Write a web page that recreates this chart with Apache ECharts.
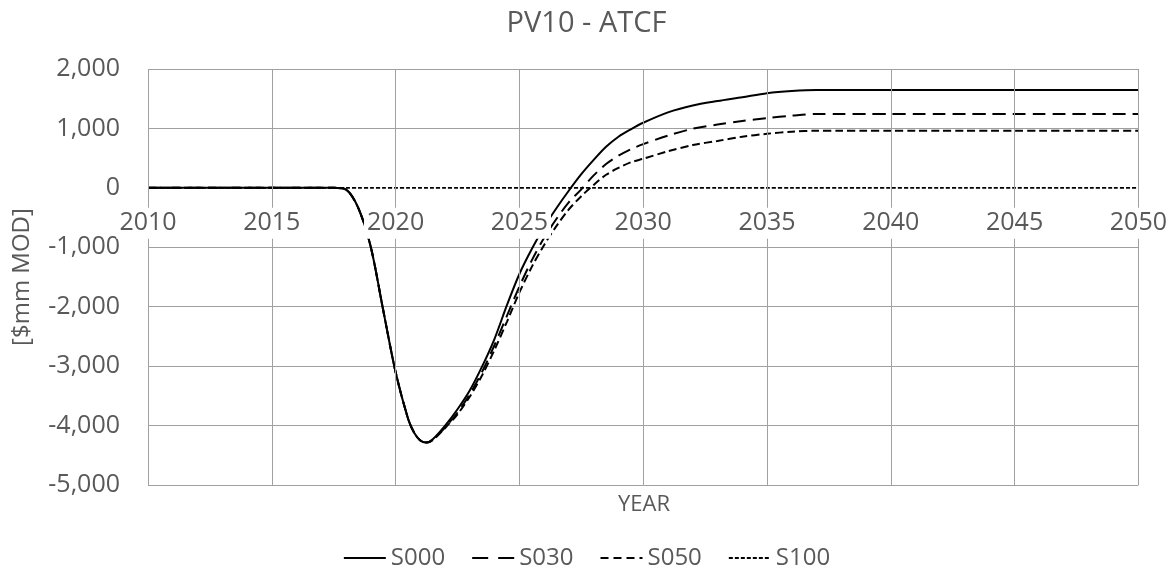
<!DOCTYPE html>
<html>
<head>
<meta charset="utf-8">
<script src="https://cdn.jsdelivr.net/npm/echarts@6/dist/echarts.min.js"></script>
<style>html,body{margin:0;padding:0;background:#fff}#c{width:1173px;height:568px}</style>
</head>
<body>
<div id="c"></div>
<script>
const years = [2010,2011,2012,2013,2014,2015,2016,2017,2017.5,2018,2018.5,2019,2019.5,2020,2020.5,2020.75,2021,2021.25,2021.5,2022,2022.5,2023,2023.5,2024,2024.5,2025,2025.5,2026,2026.5,2027,2027.5,2028,2028.5,2029,2029.5,2030,2031,2032,2033,2034,2035,2036,2037,2038,2039,2040,2041,2042,2043,2044,2045,2046,2047,2048,2049,2050];
const s000 = [0,0,0,0,0,0,0,0,0,-30,-345,-1000,-2060,-3100,-3880,-4120,-4250,-4285,-4230,-4000,-3725,-3405,-3000,-2535,-1970,-1450,-1030,-660,-340,-45,230,470,690,860,985,1095,1270,1385,1460,1525,1593,1630,1647,1647,1647,1647,1647,1647,1647,1647,1647,1647,1647,1647,1647,1647];
const s030 = [0,0,0,0,0,0,0,0,0,-30,-345,-1000,-2060,-3100,-3880,-4120,-4250,-4285,-4240,-4030,-3780,-3470,-3090,-2640,-2150,-1660,-1220,-840,-520,-240,-25,210,400,540,650,735,880,995,1065,1125,1175,1215,1244,1244,1244,1244,1244,1244,1244,1244,1244,1244,1244,1244,1244,1244];
const s050 = [0,0,0,0,0,0,0,0,0,-30,-345,-1000,-2060,-3100,-3880,-4120,-4250,-4285,-4245,-4040,-3810,-3510,-3150,-2720,-2250,-1760,-1330,-960,-640,-360,-140,50,220,335,430,490,615,720,790,860,910,945,960,960,960,960,960,960,960,960,960,960,960,960,960,960];
const s100 = years.map(() => 0);
const seriesNames = ['S000','S030','S050','S100'];
const yTicks = [-5000,-4000,-3000,-2000,-1000,0,1000,2000];
const xTicks = [2010,2015,2020,2025,2030,2035,2040,2045,2050];

const FONT = 'Open Sans';
const GREY = '#595959';
const pair = (vals) => years.map((y, i) => [y, vals[i]]);
const dashes = [null, [13, 7], [8, 4], [4, 2]];
const legendDashes = [null, [16, 10], [8, 5], [4, 2]];
const widths = [2, 2, 2, 1.8];
const vals = [s000, s030, s050, s100];

const chart = echarts.init(document.getElementById('c'), null, {renderer: 'canvas'});
chart.setOption({
  animation: false,
  backgroundColor: '#fff',
  title: {
    text: 'PV10 - ATCF', left: 'center', top: 4,
    textStyle: {fontFamily: FONT, fontSize: 29, fontWeight: 'normal', color: GREY}
  },
  graphic: [{
    type: 'text', x: 644, y: 505, z: 100,
    style: {text: 'YEAR', fontFamily: FONT, fontSize: 22, fill: GREY, align: 'center', verticalAlign: 'middle'}
  }],
  legend: {
    top: 541, left: 'center', itemWidth: 42, itemHeight: 14, itemGap: 26,
    data: seriesNames.map((n, i) => ({name: n, lineStyle: {type: legendDashes[i] || 'solid'}})),
    itemStyle: {opacity: 0},
    textStyle: {fontFamily: FONT, fontSize: 24, color: GREY}
  },
  grid: {left: 148, right: 32, top: 69, bottom: 83, containLabel: false},
  xAxis: {
    type: 'value', min: xTicks[0], max: xTicks[xTicks.length - 1], interval: 5, z: 10,
    position: 'bottom', offset: 0,
    axisLine: {show: false, onZero: false},
    axisTick: {show: false},
    axisLabel: {fontFamily: FONT, fontSize: 25, color: GREY, margin: 20, backgroundColor: '#fff', padding: [3, 3, 3, 3], showMinLabel: true, showMaxLabel: true,
      formatter: v => String(v)},
    splitLine: {show: true, lineStyle: {color: '#a0a0a0', width: 1}}
  },
  yAxis: {
    type: 'value', min: yTicks[0], max: yTicks[yTicks.length - 1], interval: 1000,
    axisLine: {show: false}, axisTick: {show: false},
    axisLabel: {fontFamily: FONT, fontSize: 25, color: GREY, margin: 28,
      formatter: v => v.toLocaleString('en-US')},
    splitLine: {show: true, lineStyle: {color: ['#a0a0a0','#a0a0a0','#a0a0a0','#a0a0a0','#a0a0a0','transparent','#a0a0a0','#a0a0a0'], width: 1}},
    name: '[$mm MOD]', nameLocation: 'middle', nameGap: 114,
    nameTextStyle: {fontFamily: FONT, fontSize: 24, color: GREY}
  },
  series: seriesNames.map((n, i) => ({
    name: n, type: 'line', data: pair(vals[i]),
    smooth: 0.3, symbol: 'none', showSymbol: false,
    lineStyle: {color: '#000', width: widths[i], type: dashes[i] || 'solid'},
    itemStyle: {color: '#000'},
    z: 2 + (i === 0 ? 3 : 0)
  }))
});
// place the x axis (labels) on the zero line of the value axis, using the library's own scale
const yZero = chart.convertToPixel({yAxisIndex: 0}, 0);
const yBottom = chart.convertToPixel({yAxisIndex: 0}, yTicks[0]);
chart.setOption({xAxis: {offset: yZero - yBottom}});
</script>
</body>
</html>
